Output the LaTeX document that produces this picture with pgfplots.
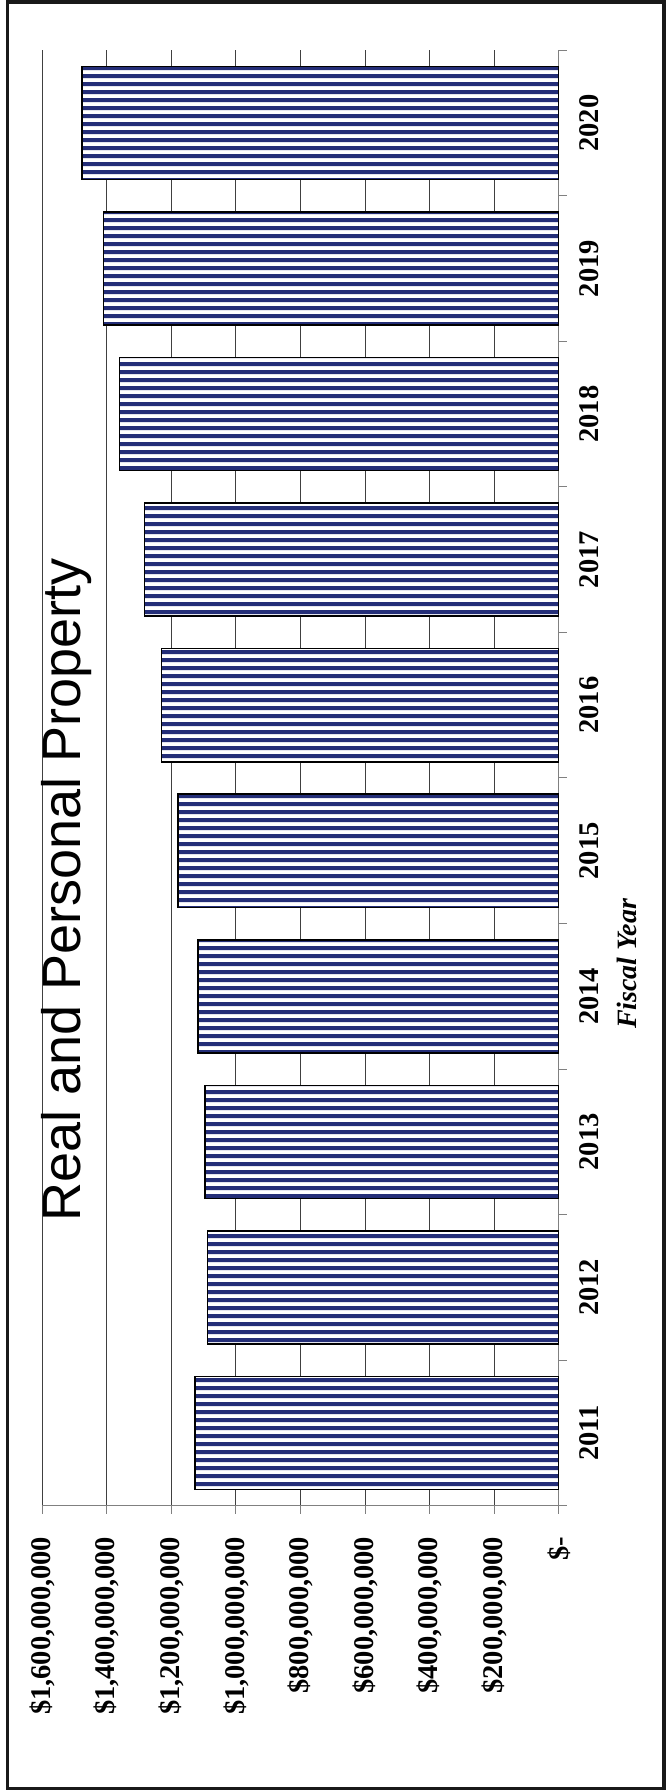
\documentclass[border=0pt]{standalone}
\usepackage{pgfplots}
\pgfplotsset{compat=1.18}
\usepackage{fontspec}
\setmainfont{Liberation Serif}
\newfontfamily\titlefont{Liberation Sans}
\usetikzlibrary{patterns.meta}
\definecolor{barnavy}{RGB}{36,46,120}
\tikzdeclarepattern{
  name=hstripes,
  type=uncolored,
  bottom left={(0pt,0pt)},
  top right={(300pt,3.12pt)},
  tile size={(300pt,3.12pt)},
  code={
    \pgfpathrectangle{\pgfqpoint{-1pt}{0.76pt}}{\pgfqpoint{302pt}{1.6pt}}
    \pgfusepath{fill}
  }
}
\begin{document}
\begin{tikzpicture}
\useasboundingbox (0,0) rectangle (268.4pt,716.8pt);
\draw[line width=1.4pt, black!90] (2.9pt,1.4pt) rectangle (265.6pt,716.0pt);
\begin{axis}[
  at={(120.2pt,405.6pt)}, anchor=center,
  scale only axis, width=206.64pt, height=582.2pt,
  xbar, x dir=reverse,
  xmin=0, xmax=1.6e9, ymin=-0.5, ymax=9.5,
  bar width=0.777,
  axis x line=bottom, axis y line=right,
  axis line style={draw=gray, line width=0.5pt, -},
  xtick={0,2e8,4e8,6e8,8e8,1e9,1.2e9,1.4e9,1.6e9},
  xticklabels={{\$-\hspace{9.6pt}},{\$200,000,000},{\$400,000,000},{\$600,000,000},{\$800,000,000},{\$1,000,000,000},{\$1,200,000,000},{\$1,400,000,000},{\$1,600,000,000}},
  scaled x ticks=false,
  xmajorgrids, grid style={black!75, line width=0.4pt},
  ytick={-0.5,0.5,...,9.5}, yticklabels={},
  extra y ticks={0,1,2,3,4,5,6,7,8,9},
  extra y tick labels={2011,2012,2013,2014,2015,2016,2017,2018,2019,2020},
  extra y tick style={major tick length=0pt, ymajorgrids=false},
  tick align=outside,
  major tick length=3.2pt,
  tick style={draw=gray, line width=0.4pt},
  ticklabel style={font=\bfseries\fontsize{11.4}{13}\selectfont},
  xticklabel style={rotate=90, anchor=east, inner sep=0pt},
  xticklabel shift=9pt,
  yticklabel style={rotate=90, anchor=north, inner sep=0pt},
  yticklabel shift=8pt,
]
\addplot[draw=black, line width=0.6pt, preaction={fill=white},
  pattern=hstripes, pattern color=barnavy]
coordinates {
(1.126e9,0) (1.088e9,1) (1.096e9,2) (1.1175e9,3) (1.180e9,4)
(1.230e9,5) (1.2835e9,6) (1.361e9,7) (1.410e9,8) (1.476e9,9)
};
\end{axis}
\node[rotate=90, anchor=base, inner sep=0pt, font=\titlefont\fontsize{21.6}{26}\selectfont] at (32pt,360.8pt) {Real and Personal Property};
\node[rotate=90, anchor=base, inner sep=0pt, font=\bfseries\itshape\fontsize{11.2}{13}\selectfont] at (254.4pt,331.2pt) {Fiscal Year};
\end{tikzpicture}
\end{document}
